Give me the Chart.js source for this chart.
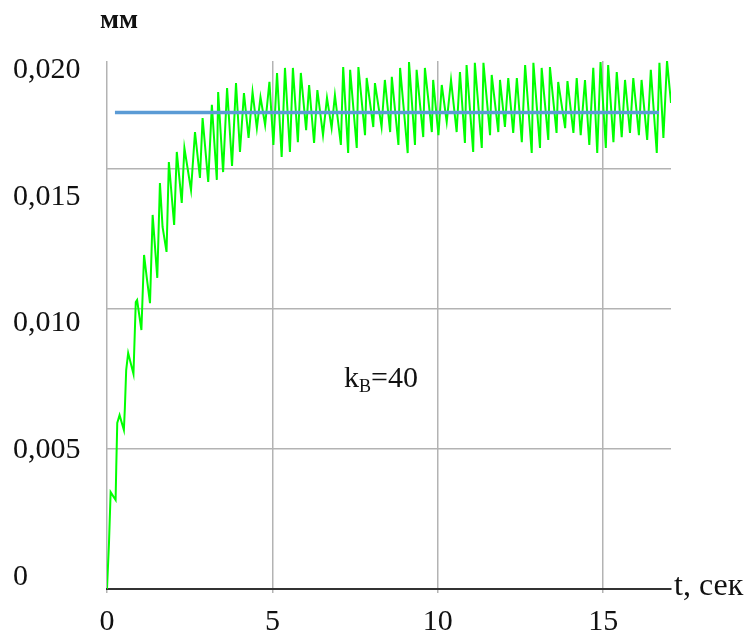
<!DOCTYPE html>
<html>
<head>
<meta charset="utf-8">
<script src="https://cdn.jsdelivr.net/npm/chart.js@4/dist/chart.umd.min.js"></script>
<style>
  html, body { margin: 0; background: #fff; }
  #wrap { width: 752px; height: 633px; }
</style>
</head>
<body>
<div id="wrap"><canvas id="chart"></canvas></div>
<script>
// tick labels
const xTicks = [0, 5, 10, 15];
const yTicks = [0, 0.005, 0.010, 0.015, 0.020];
const gridTicks = [0.005, 0.010, 0.015];

// measured response (green), t in sec, displacement in mm
const time = [
  0.00, 0.06, 0.11, 0.26, 0.28, 0.31, 0.38, 0.51, 0.54, 0.58, 0.64, 0.80, 0.87, 0.91,
  1.04, 1.12, 1.20, 1.30, 1.38, 1.52, 1.60, 1.68, 1.80, 1.87, 2.03, 2.11, 2.26, 2.34,
  2.54, 2.66, 2.81, 2.89, 3.06, 3.17, 3.32, 3.36, 3.51, 3.63, 3.78, 3.90, 4.02, 4.14,
  4.28, 4.40, 4.53, 4.64, 4.78, 4.91, 5.03, 5.14, 5.28, 5.38, 5.53, 5.62, 5.77, 5.86,
  6.02, 6.11, 6.26, 6.36, 6.53, 6.65, 6.79, 6.89, 7.07, 7.14, 7.29, 7.35, 7.55, 7.60,
  7.80, 7.85, 8.05, 8.10, 8.30, 8.40, 8.56, 8.61, 8.81, 8.86, 9.09, 9.13, 9.31, 9.36,
  9.56, 9.61, 9.82, 9.86, 10.02, 10.12, 10.27, 10.40, 10.57, 10.67, 10.82, 10.87,
  11.07, 11.12, 11.33, 11.38, 11.58, 11.63, 11.83, 11.88, 12.03, 12.13, 12.28, 12.39,
  12.54, 12.64, 12.84, 12.89, 13.09, 13.14, 13.34, 13.39, 13.59, 13.64, 13.85, 13.92,
  14.10, 14.20, 14.32, 14.45, 14.58, 14.70, 14.82, 14.92, 15.08, 15.15, 15.31, 15.41,
  15.56, 15.66, 15.81, 15.91, 16.08, 16.16, 16.33, 16.44, 16.62, 16.70, 16.82, 16.93,
  17.05,
];
const displacement = [
  0.00000, 0.00164, 0.00346, 0.00318, 0.00436, 0.00593, 0.00621, 0.00568, 0.00646, 0.00782, 0.00843, 0.00768, 0.01025, 0.01032,
  0.00925, 0.01193, 0.01114, 0.01021, 0.01336, 0.01111, 0.01450, 0.01293, 0.01204, 0.01525, 0.01300, 0.01561, 0.01379, 0.01575,
  0.01425, 0.01632, 0.01468, 0.01682, 0.01454, 0.01729, 0.01461, 0.01775, 0.01489, 0.01789, 0.01511, 0.01807, 0.01561, 0.01771,
  0.01611, 0.01775, 0.01646, 0.01757, 0.01657, 0.01811, 0.01586, 0.01843, 0.01543, 0.01861, 0.01561, 0.01861, 0.01596, 0.01843,
  0.01639, 0.01800, 0.01593, 0.01782, 0.01621, 0.01754, 0.01646, 0.01764, 0.01586, 0.01864, 0.01557, 0.01854, 0.01575, 0.01864,
  0.01621, 0.01825, 0.01650, 0.01807, 0.01650, 0.01818, 0.01632, 0.01829, 0.01586, 0.01861, 0.01557, 0.01882, 0.01586, 0.01854,
  0.01614, 0.01861, 0.01632, 0.01818, 0.01621, 0.01800, 0.01668, 0.01818, 0.01632, 0.01846, 0.01593, 0.01871,
  0.01561, 0.01879, 0.01575, 0.01879, 0.01621, 0.01836, 0.01632, 0.01818, 0.01650, 0.01825, 0.01629, 0.01825,
  0.01596, 0.01871, 0.01557, 0.01879, 0.01575, 0.01861, 0.01604, 0.01864, 0.01629, 0.01811, 0.01646, 0.01814,
  0.01629, 0.01825, 0.01621, 0.01818, 0.01586, 0.01861, 0.01557, 0.01882, 0.01575, 0.01871, 0.01596, 0.01846,
  0.01614, 0.01818, 0.01629, 0.01825, 0.01621, 0.01818, 0.01604, 0.01854, 0.01557, 0.01879, 0.01611, 0.01886,
  0.01736,
];

// set level (blue)
const setTime = [0.24, 16.69];
const setLevel = [0.01702, 0.01702];

const SERIF = "'Liberation Serif', 'DejaVu Serif', serif";
const fmtY = (v) => (v === 0 ? '0' : v.toFixed(3).replace('.', ','));

const labels = {
  id: 'labels',
  afterDraw(chart) {
    const ctx = chart.ctx;
    ctx.save();
    ctx.fillStyle = '#111';
    ctx.textBaseline = 'alphabetic';
    ctx.textAlign = 'left';

    ctx.font = `bold 28px ${SERIF}`;
    ctx.fillText('мм', 100, 28);

    ctx.font = `32px ${SERIF}`;
    ctx.fillText('t, сек', 674, 595);

    // k with subscript В
    let x = 344;
    ctx.font = `30px ${SERIF}`;
    ctx.fillText('k', x, 387);
    x += ctx.measureText('k').width;
    ctx.font = `18px ${SERIF}`;
    ctx.fillText('В', x, 392);
    x += ctx.measureText('В').width;
    ctx.font = `30px ${SERIF}`;
    ctx.fillText('=40', x, 387);
    ctx.restore();
  },
};

const gridColor = '#b3b3b3';

new Chart(document.getElementById('chart'), {
  type: 'line',
  data: {
    datasets: [
      {
        data: setTime.map((t, i) => ({ x: t, y: setLevel[i] })),
        borderColor: '#5b9bd5',
        borderWidth: 3.5,
        pointRadius: 0,
        yAxisID: 'y',
      },
      {
        data: time.map((t, i) => ({ x: t, y: displacement[i] })),
        borderColor: '#00ff00',
        borderWidth: 2,
        pointRadius: 0,
        tension: 0,
        yAxisID: 'y',
      },
    ],
  },
  options: {
    responsive: true,
    maintainAspectRatio: false,
    animation: false,
    layout: { padding: { left: 13, top: 61, right: 81, bottom: 0 } },
    plugins: { legend: { display: false }, tooltip: { enabled: false } },
    scales: {
      x: {
        type: 'linear',
        min: 0,
        max: 17.05,
        afterBuildTicks: (s) => { s.ticks = xTicks.map((v) => ({ value: v })); },
        afterFit: (s) => { s.height = 44; },
        grid: { color: gridColor, lineWidth: 1.5, tickLength: 4 },
        border: { color: '#333', width: 2 },
        ticks: {
          color: '#111',
          font: { family: SERIF, size: 30 },
          padding: 11,
          maxRotation: 0,
          callback: (v) => String(v),
        },
      },
      y: {
        type: 'linear',
        position: 'right',
        min: 0,
        max: 0.018857,
        afterBuildTicks: (s) => { s.ticks = gridTicks.map((v) => ({ value: v })); },
        afterFit: (s) => { s.width = 0; },
        grid: { color: gridColor, lineWidth: 1.5, drawTicks: false },
        border: { display: false },
        ticks: { display: false },
      },
      yLab: {
        type: 'linear',
        position: 'left',
        min: -0.000473,
        max: 0.020355,
        afterBuildTicks: (s) => { s.ticks = yTicks.map((v) => ({ value: v })); },
        afterFit: (s) => { s.width = 94; },
        grid: { display: false },
        border: { display: false },
        ticks: {
          color: '#111',
          font: { family: SERIF, size: 30 },
          crossAlign: 'far',
          padding: 0,
          callback: fmtY,
        },
      },
    },
  },
  plugins: [labels],
});
</script>
</body>
</html>
